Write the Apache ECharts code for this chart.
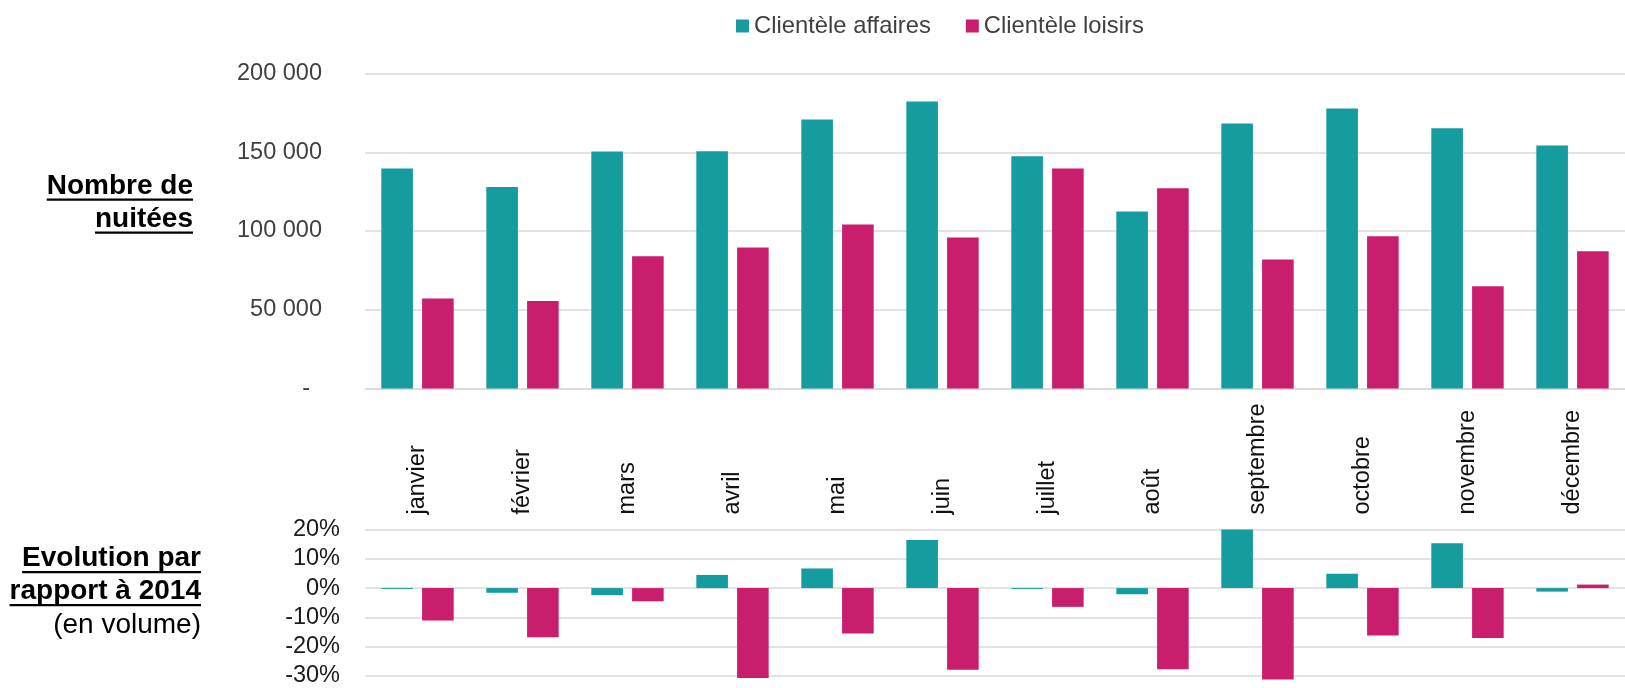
<!DOCTYPE html>
<html>
<head>
<meta charset="utf-8">
<script src="https://cdn.jsdelivr.net/npm/echarts@6/dist/echarts.min.js"></script>
<style>
  html, body { margin: 0; padding: 0; background: #fff; }
  #chart { width: 1625px; height: 688px; }
</style>
</head>
<body>
<div id="chart"></div>
<script>
// ---- Data ----
const months = ['janvier', 'février', 'mars', 'avril', 'mai', 'juin', 'juillet', 'août', 'septembre', 'octobre', 'novembre', 'décembre'];
const seriesNames = ['Clientèle affaires', 'Clientèle loisirs'];
const nuiteesAffaires = [139700, 128000, 150500, 150700, 170800, 182200, 147500, 112400, 168300, 177800, 165300, 154300];
const nuiteesLoisirs  = [57100, 55500, 84000, 89500, 104100, 95900, 139700, 127200, 81900, 96700, 65000, 87200];
const evolAffaires = [-0.3, -1.6, -2.4, 4.5, 6.7, 16.4, -0.3, -2.1, 20.0, 4.9, 15.3, -1.2];
const evolLoisirs  = [-11.1, -16.8, -4.5, -30.7, -15.5, -27.9, -6.4, -27.7, -31.2, -16.2, -17.0, 1.2];
const topTicks = [0, 50000, 100000, 150000, 200000];
const bottomTicks = [-30, -20, -10, 0, 10, 20];
const titleTop = ['Nombre de', 'nuitées'];
const titleBottom = ['Evolution par', 'rapport à 2014'];
const titleBottomSub = '(en volume)';

// ---- Styles ----
const FONT = '"Liberation Sans", Arial, Helvetica, sans-serif';
const TEAL = '#159C9E';
const PINK = '#C91E6E';
const GRID = '#D9D9D9';
const LABEL = '#404040';

function fmtThousands(v) {
  if (v === 0) return '{d|-}';
  return String(v).replace(/\B(?=(\d{3})+(?!\d))/g, ' ');
}

const measureCtx = document.createElement('canvas').getContext('2d');
function textWidth(t, font) { measureCtx.font = font; return measureCtx.measureText(t).width; }

const boldFont = 'bold 28px ' + FONT;
const regFont = '28px ' + FONT;

const graphics = [];
function addTitle(text, rightX, centerY, bold, underlineY) {
  graphics.push({
    type: 'text', z: 10,
    style: { text: text, x: rightX, y: centerY, align: 'right', verticalAlign: 'middle',
             font: bold ? boldFont : regFont, fill: '#000' }
  });
  if (underlineY != null) {
    const w = textWidth(text, bold ? boldFont : regFont);
    graphics.push({ type: 'rect', z: 10, shape: { x: rightX - w, y: underlineY, width: w, height: 2.2 }, style: { fill: '#000' } });
  }
}
addTitle(titleTop[0], 193, 186, true, 198.5);
addTitle(titleTop[1], 193, 219, true, 231.5);
addTitle(titleBottom[0], 201, 558, true, 571);
addTitle(titleBottom[1], 201, 591.5, true, 604);
addTitle(titleBottomSub, 201, 625, false, null);

const barW = 31.6, barGap = '29%';

const option = {
  animation: false,
  backgroundColor: '#fff',
  textStyle: { fontFamily: FONT },
  legend: {
    data: seriesNames,
    left: 731, top: 9,
    icon: 'rect', itemWidth: 13, itemHeight: 13, itemGap: 35,
    textStyle: { fontSize: 23.8, color: LABEL, fontFamily: FONT }
  },
  graphic: graphics,
  grid: [
    { left: 365, right: 0, top: 73.5, height: 315, containLabel: false },
    { left: 365, right: 0, top: 529.5, height: 149.5, containLabel: false }
  ],
  xAxis: [
    {
      type: 'category', gridIndex: 0, data: months,
      axisLine: { show: true, lineStyle: { color: GRID, width: 1.5 } },
      axisTick: { show: false },
      axisLabel: { rotate: 90, margin: 126, align: 'left', verticalAlign: 'middle',
                   fontSize: 23.5, color: '#111', fontFamily: FONT, interval: 0 }
    },
    {
      type: 'category', gridIndex: 1, data: months,
      axisLine: { show: false }, axisTick: { show: false }, axisLabel: { show: false }
    }
  ],
  yAxis: [
    {
      type: 'value', gridIndex: 0, min: topTicks[0], max: topTicks[topTicks.length - 1], interval: 50000,
      axisLine: { show: false }, axisTick: { show: false },
      splitLine: { lineStyle: { color: GRID, width: 1.5 } },
      axisLabel: { margin: 43, fontSize: 23.5, color: LABEL, fontFamily: FONT, formatter: fmtThousands,
                   rich: { d: { padding: [0, 12, 0, 0], fontSize: 23.5, color: LABEL, fontFamily: FONT } } }
    },
    {
      type: 'value', gridIndex: 1, min: bottomTicks[0], max: bottomTicks[bottomTicks.length - 1], interval: 10,
      axisLine: { show: false }, axisTick: { show: false },
      splitLine: { lineStyle: { color: GRID, width: 1.5 } },
      axisLabel: { margin: 25, fontSize: 23.5, color: '#1a1a1a', fontFamily: FONT, formatter: v => v + '%' }
    }
  ],
  series: [
    { name: seriesNames[0], type: 'bar', xAxisIndex: 0, yAxisIndex: 0, data: nuiteesAffaires,
      barWidth: barW, barGap: barGap, itemStyle: { color: TEAL } },
    { name: seriesNames[1], type: 'bar', xAxisIndex: 0, yAxisIndex: 0, data: nuiteesLoisirs,
      barWidth: barW, barGap: barGap, itemStyle: { color: PINK } },
    { name: seriesNames[0], type: 'bar', xAxisIndex: 1, yAxisIndex: 1, data: evolAffaires, clip: false,
      barWidth: barW, barGap: barGap, itemStyle: { color: TEAL } },
    { name: seriesNames[1], type: 'bar', xAxisIndex: 1, yAxisIndex: 1, data: evolLoisirs, clip: false,
      barWidth: barW, barGap: barGap, itemStyle: { color: PINK } }
  ]
};

const chart = echarts.init(document.getElementById('chart'), null, { renderer: 'canvas' });
chart.setOption(option);
</script>
</body>
</html>
